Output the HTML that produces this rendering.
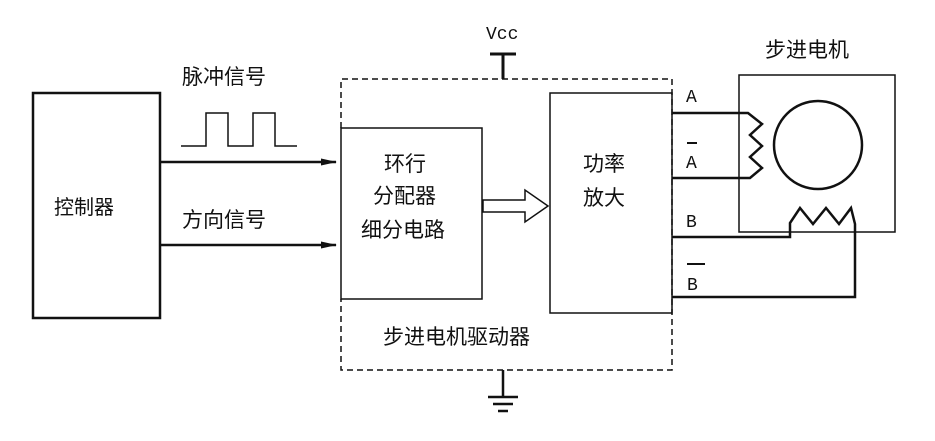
<!DOCTYPE html>
<html><head><meta charset="utf-8"><style>
body{margin:0;background:#fff;}
</style></head><body>
<svg width="935" height="436" viewBox="0 0 935 436" xmlns="http://www.w3.org/2000/svg" font-family="Liberation Sans, Noto Sans CJK SC, sans-serif" fill="#111">
<defs><marker id="ar" markerWidth="16" markerHeight="10" refX="15" refY="5" orient="auto" markerUnits="userSpaceOnUse"><path d="M0,1.5 L16,5 L0,8.5 Z" fill="#111"/></marker></defs>
<g fill="none" stroke="#111">
<rect x="33" y="93" width="127" height="225" stroke-width="2.5"/>
<path d="M341,128 V79 H672 V370 H341 V299" stroke-dasharray="6,4" stroke-width="1.5"/>
<rect x="341" y="128" width="141" height="171" stroke-width="1.5"/>
<rect x="550" y="93" width="122" height="220" stroke-width="1.5"/>
<rect x="739" y="75" width="156" height="157" stroke-width="1.5"/>
<circle cx="818" cy="145" r="44" stroke-width="2.5"/>
<path d="M503,79 V54 M490,54 H516" stroke-width="3"/>
<path d="M503,370 V397 M488,397 H518 M493,404 H513 M498,411 H508" stroke-width="2.5"/>
<path d="M160,162 H336" stroke-width="2.5" marker-end="url(#ar)"/>
<path d="M160,245 H336" stroke-width="2.5" marker-end="url(#ar)"/>
<path d="M181,146 H206 V113 H228 V146 H253 V113 H275 V146 H297" stroke-width="1.5"/>
<path d="M483,200 H525 V190 L548,206 L525,222 V212 H483 Z" stroke-width="1.5"/>
<path d="M672,113 H748 L762,124 L750,135 L762,146 L750,157 L762,168 L750,178 H672" stroke-width="2.5"/>
<path d="M672,237 H790 V223 L800,208 L813,224 L826,208 L839,224 L851,208 L855,224 V297 H672" stroke-width="2.5"/>
<path d="M687,143 H697 M687,264 H705" stroke-width="2"/>
</g>
<text x="54" y="214" font-size="20">控制器</text>
<text x="182" y="84" font-size="21">脉冲信号</text>
<text x="182" y="227" font-size="21">方向信号</text>
<text x="384" y="171" font-size="21">环行</text>
<text x="373" y="203" font-size="21">分配器</text>
<text x="361" y="237" font-size="21">细分电路</text>
<text x="583" y="171" font-size="21">功率</text>
<text x="583" y="205" font-size="21">放大</text>
<text x="383" y="344" font-size="21">步进电机驱动器</text>
<text x="765" y="57" font-size="21">步进电机</text>
<g style="font-family:'Liberation Mono','DejaVu Sans Mono',monospace" font-size="18">
<text x="486" y="39">Vcc</text>
<text x="686" y="102">A</text>
<text x="686" y="168">A</text>
<text x="686" y="227">B</text>
<text x="687" y="290">B</text>
</g>
</svg>
</body></html>
